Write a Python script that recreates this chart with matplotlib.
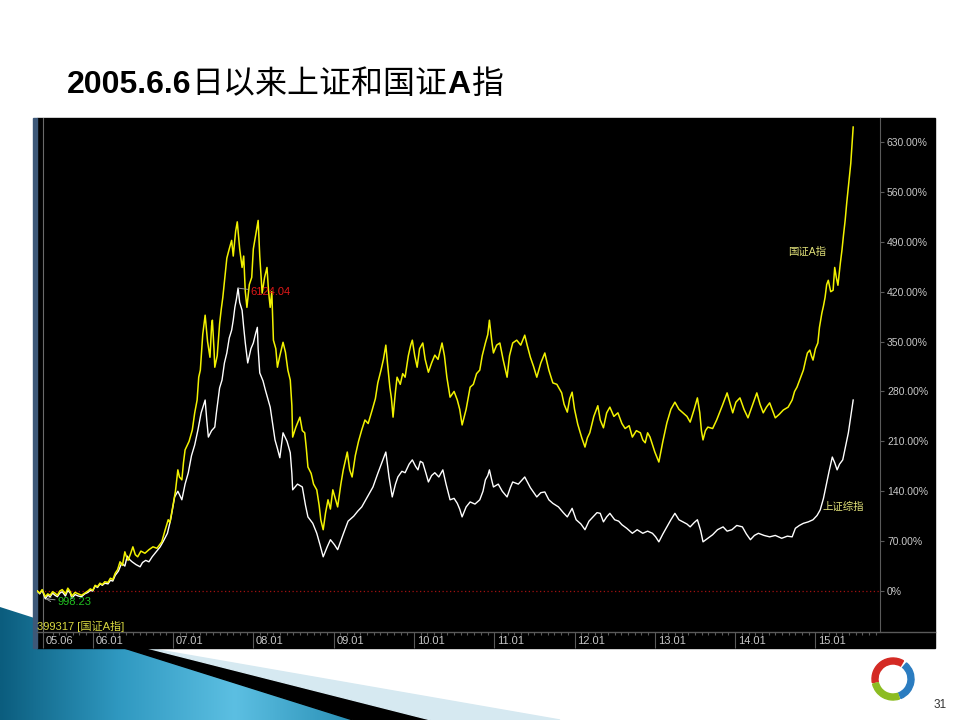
import numpy as np
import matplotlib
matplotlib.use("Agg")
import matplotlib.pyplot as plt
from matplotlib.patches import Polygon, Rectangle, Wedge
from matplotlib.colors import LinearSegmentedColormap
from matplotlib.transforms import ScaledTranslation

plt.rcParams['font.family'] = ['Liberation Sans', 'Noto Sans CJK SC', 'DejaVu Sans']

# 国证A指 (399317): (decimal year, change since 2005-06-06 in %)
gz_points = [
    (2005.31, 0), (2005.34, -3), (2005.37, 2), (2005.41, -8), (2005.44, -4), (2005.47, -6), (2005.50, -1),
    (2005.53, -3), (2005.56, -6), (2005.59, 0), (2005.62, 2), (2005.66, -4), (2005.69, 4), (2005.72, -1),
    (2005.74, -7), (2005.78, -2), (2005.82, -4), (2005.86, -6), (2005.90, -3), (2005.94, 0), (2005.97, 3),
    (2006.00, 1), (2006.03, 8), (2006.06, 6), (2006.09, 11), (2006.12, 9), (2006.15, 13), (2006.19, 12),
    (2006.22, 18), (2006.25, 16), (2006.28, 25), (2006.31, 30), (2006.34, 41), (2006.37, 36), (2006.40, 55),
    (2006.42, 48), (2006.44, 43), (2006.47, 52), (2006.50, 62), (2006.53, 51), (2006.56, 48), (2006.60, 56),
    (2006.65, 53), (2006.70, 58), (2006.75, 62), (2006.80, 60), (2006.86, 69), (2006.90, 85), (2006.94, 100),
    (2006.96, 96), (2006.99, 114), (2007.03, 140), (2007.06, 170), (2007.08, 160), (2007.11, 156),
    (2007.13, 180), (2007.15, 198), (2007.20, 210), (2007.24, 226), (2007.27, 250), (2007.30, 268),
    (2007.32, 300), (2007.34, 310), (2007.37, 360), (2007.40, 387), (2007.43, 350), (2007.46, 328),
    (2007.48, 372), (2007.49, 380), (2007.51, 340), (2007.52, 314), (2007.55, 330), (2007.58, 375),
    (2007.60, 395), (2007.62, 412), (2007.65, 445), (2007.67, 467), (2007.70, 480), (2007.73, 492),
    (2007.75, 470), (2007.78, 505), (2007.80, 518), (2007.83, 480), (2007.86, 454), (2007.88, 470),
    (2007.90, 420), (2007.92, 398), (2007.95, 430), (2007.98, 440), (2008.00, 480), (2008.03, 500),
    (2008.06, 520), (2008.08, 470), (2008.11, 418), (2008.14, 440), (2008.17, 454), (2008.19, 420),
    (2008.21, 398), (2008.23, 420), (2008.25, 352), (2008.28, 340), (2008.30, 314), (2008.33, 330),
    (2008.37, 349), (2008.40, 335), (2008.43, 310), (2008.46, 296), (2008.48, 260), (2008.49, 216),
    (2008.53, 230), (2008.58, 244), (2008.61, 225), (2008.64, 222), (2008.66, 200), (2008.68, 174),
    (2008.72, 165), (2008.75, 150), (2008.79, 142), (2008.82, 120), (2008.84, 100), (2008.87, 86),
    (2008.90, 110), (2008.93, 128), (2008.96, 115), (2008.99, 142), (2009.02, 130), (2009.05, 118),
    (2009.09, 150), (2009.12, 170), (2009.15, 185), (2009.17, 195), (2009.20, 170), (2009.23, 160),
    (2009.27, 190), (2009.31, 210), (2009.35, 226), (2009.39, 240), (2009.43, 235), (2009.48, 254),
    (2009.52, 270), (2009.55, 292), (2009.59, 310), (2009.62, 325), (2009.65, 345), (2009.67, 320),
    (2009.70, 286), (2009.72, 270), (2009.74, 244), (2009.77, 280), (2009.79, 300), (2009.83, 290),
    (2009.86, 305), (2009.89, 300), (2009.93, 330), (2009.96, 345), (2009.98, 352), (2010.01, 330),
    (2010.04, 314), (2010.07, 340), (2010.11, 348), (2010.14, 325), (2010.18, 307), (2010.22, 320),
    (2010.26, 331), (2010.30, 325), (2010.35, 348), (2010.38, 330), (2010.41, 300), (2010.45, 272),
    (2010.50, 280), (2010.54, 268), (2010.57, 255), (2010.60, 233), (2010.65, 255), (2010.70, 286),
    (2010.74, 290), (2010.78, 305), (2010.82, 310), (2010.85, 330), (2010.89, 348), (2010.92, 360),
    (2010.94, 380), (2010.97, 350), (2010.99, 334), (2011.03, 345), (2011.07, 348), (2011.11, 325),
    (2011.16, 300), (2011.19, 330), (2011.23, 348), (2011.28, 352), (2011.33, 345), (2011.38, 359),
    (2011.41, 345), (2011.45, 328), (2011.49, 315), (2011.53, 300), (2011.58, 320), (2011.63, 334),
    (2011.68, 310), (2011.73, 292), (2011.78, 290), (2011.84, 278), (2011.87, 262), (2011.91, 251),
    (2011.94, 270), (2011.97, 279), (2012.00, 255), (2012.04, 234), (2012.09, 215), (2012.13, 202),
    (2012.16, 215), (2012.19, 222), (2012.24, 245), (2012.29, 260), (2012.32, 240), (2012.36, 229),
    (2012.40, 250), (2012.44, 258), (2012.49, 245), (2012.54, 250), (2012.59, 235), (2012.63, 228),
    (2012.68, 232), (2012.72, 216), (2012.77, 225), (2012.82, 222), (2012.85, 212), (2012.88, 208),
    (2012.91, 222), (2012.94, 216), (2013.00, 195), (2013.05, 181), (2013.10, 210), (2013.15, 236),
    (2013.20, 255), (2013.25, 265), (2013.30, 255), (2013.35, 250), (2013.40, 245), (2013.44, 237),
    (2013.49, 255), (2013.53, 271), (2013.56, 250), (2013.58, 225), (2013.60, 212), (2013.63, 225),
    (2013.66, 230), (2013.72, 228), (2013.77, 240), (2013.84, 260), (2013.90, 278), (2013.94, 262),
    (2013.97, 250), (2014.01, 265), (2014.06, 271), (2014.11, 255), (2014.16, 243), (2014.22, 262),
    (2014.27, 278), (2014.31, 262), (2014.35, 250), (2014.39, 258), (2014.43, 264), (2014.47, 252),
    (2014.50, 243), (2014.55, 248), (2014.60, 254), (2014.66, 258), (2014.71, 268), (2014.74, 280),
    (2014.77, 286), (2014.81, 298), (2014.85, 310), (2014.88, 325), (2014.90, 334), (2014.93, 338),
    (2014.95, 330), (2014.97, 324), (2015.00, 340), (2015.03, 348), (2015.05, 370), (2015.08, 390),
    (2015.10, 400), (2015.12, 412), (2015.14, 430), (2015.16, 436), (2015.19, 420), (2015.22, 422),
    (2015.24, 454), (2015.26, 440), (2015.28, 429), (2015.31, 460), (2015.33, 478), (2015.35, 500),
    (2015.37, 520), (2015.39, 545), (2015.41, 567), (2015.44, 600), (2015.46, 633), (2015.47, 651),
]

# 上证综指: (decimal year, change since 2005-06-06 in %)
sh_points = [
    (2005.31, 0), (2005.34, -4), (2005.37, 1), (2005.41, -11), (2005.44, -6), (2005.47, -8), (2005.50, -3),
    (2005.53, -6), (2005.56, -8), (2005.59, -3), (2005.62, -1), (2005.66, -7), (2005.69, 1), (2005.72, -3),
    (2005.74, -10), (2005.78, -5), (2005.82, -7), (2005.86, -8), (2005.90, -4), (2005.94, -2), (2005.97, 1),
    (2006.00, 0), (2006.03, 7), (2006.06, 5), (2006.09, 10), (2006.12, 8), (2006.15, 11), (2006.19, 10),
    (2006.22, 15), (2006.25, 14), (2006.28, 22), (2006.32, 28), (2006.36, 39), (2006.40, 35), (2006.43, 49),
    (2006.46, 44), (2006.49, 41), (2006.54, 37), (2006.59, 34), (2006.62, 40), (2006.66, 43), (2006.70, 41),
    (2006.74, 48), (2006.79, 55), (2006.84, 62), (2006.88, 70), (2006.93, 81), (2006.97, 100), (2007.02, 132),
    (2007.06, 140), (2007.11, 128), (2007.15, 150), (2007.19, 166), (2007.23, 190), (2007.27, 205),
    (2007.31, 226), (2007.35, 250), (2007.40, 268), (2007.42, 240), (2007.44, 216), (2007.48, 225),
    (2007.52, 230), (2007.54, 250), (2007.56, 268), (2007.58, 285), (2007.61, 296), (2007.64, 320),
    (2007.67, 334), (2007.70, 355), (2007.73, 366), (2007.75, 380), (2007.77, 398), (2007.79, 410),
    (2007.81, 425), (2007.83, 405), (2007.86, 394), (2007.88, 370), (2007.90, 348), (2007.92, 330),
    (2007.93, 320), (2007.97, 340), (2008.00, 348), (2008.03, 362), (2008.05, 370), (2008.06, 340),
    (2008.08, 306), (2008.12, 295), (2008.15, 282), (2008.18, 270), (2008.21, 258), (2008.24, 235),
    (2008.27, 212), (2008.30, 200), (2008.33, 187), (2008.35, 205), (2008.37, 222), (2008.42, 210),
    (2008.46, 194), (2008.48, 165), (2008.49, 142), (2008.55, 150), (2008.61, 146), (2008.65, 120),
    (2008.68, 104), (2008.74, 95), (2008.79, 81), (2008.83, 65), (2008.87, 48), (2008.92, 62),
    (2008.96, 72), (2009.01, 65), (2009.05, 58), (2009.12, 80), (2009.18, 98), (2009.25, 105),
    (2009.30, 112), (2009.35, 118), (2009.42, 132), (2009.49, 146), (2009.55, 165), (2009.60, 180),
    (2009.65, 195), (2009.69, 160), (2009.73, 132), (2009.77, 150), (2009.80, 160), (2009.85, 168),
    (2009.89, 166), (2009.94, 178), (2009.98, 184), (2010.02, 175), (2010.05, 170), (2010.08, 182),
    (2010.11, 180), (2010.15, 165), (2010.18, 153), (2010.22, 162), (2010.26, 166), (2010.31, 160),
    (2010.36, 170), (2010.40, 150), (2010.45, 128), (2010.50, 130), (2010.54, 123), (2010.57, 115),
    (2010.60, 104), (2010.65, 118), (2010.70, 125), (2010.76, 122), (2010.82, 128), (2010.86, 140),
    (2010.89, 156), (2010.92, 162), (2010.94, 170), (2010.97, 155), (2010.99, 146), (2011.05, 150),
    (2011.10, 140), (2011.16, 132), (2011.20, 145), (2011.23, 153), (2011.30, 150), (2011.38, 160),
    (2011.45, 145), (2011.53, 132), (2011.58, 138), (2011.63, 139), (2011.68, 128), (2011.73, 123),
    (2011.80, 118), (2011.86, 110), (2011.91, 104), (2011.97, 116), (2012.02, 100), (2012.08, 94),
    (2012.13, 86), (2012.18, 98), (2012.23, 104), (2012.28, 110), (2012.32, 109), (2012.36, 97),
    (2012.40, 104), (2012.44, 109), (2012.50, 100), (2012.55, 98), (2012.59, 93), (2012.65, 88),
    (2012.72, 81), (2012.78, 86), (2012.85, 81), (2012.91, 84), (2012.97, 81), (2013.01, 76),
    (2013.05, 69), (2013.10, 80), (2013.15, 90), (2013.20, 100), (2013.25, 109), (2013.30, 100),
    (2013.35, 97), (2013.40, 94), (2013.44, 90), (2013.49, 96), (2013.53, 100), (2013.57, 85),
    (2013.60, 69), (2013.66, 74), (2013.72, 79), (2013.78, 86), (2013.85, 90), (2013.90, 84),
    (2013.96, 86), (2014.02, 92), (2014.09, 90), (2014.14, 80), (2014.19, 72), (2014.24, 78),
    (2014.29, 81), (2014.36, 78), (2014.43, 76), (2014.50, 78), (2014.58, 74), (2014.65, 77),
    (2014.71, 76), (2014.73, 82), (2014.75, 88), (2014.80, 92), (2014.85, 95), (2014.91, 97),
    (2014.97, 100), (2015.02, 106), (2015.06, 114), (2015.10, 130), (2015.14, 152), (2015.17, 168),
    (2015.21, 188), (2015.24, 180), (2015.27, 170), (2015.30, 178), (2015.34, 184), (2015.37, 200),
    (2015.41, 222), (2015.44, 245), (2015.47, 268),
]

sh_low = 998.23
sh_high = 6124.04

pct_ticks = [0, 70, 140, 210, 280, 350, 420, 490, 560, 630]
pct_labels = ['0%'] + ['%.2f%%' % v for v in pct_ticks[1:]]
year_ticks = [2005.38, 2006, 2007, 2008, 2009, 2010, 2011, 2012, 2013, 2014, 2015]
year_labels = ['05.06', '06.01', '07.01', '08.01', '09.01', '10.01', '11.01', '12.01', '13.01', '14.01', '15.01']

gz_year, gz_pct = zip(*gz_points)
sh_year, sh_pct = zip(*sh_points)

GRID = '#5a5a5a'
AXTXT = '#c8c8c8'
LBL = '#e2e27a'

fig = plt.figure(figsize=(9.6, 7.2), dpi=100)
fig.patch.set_facecolor('white')

# slide decoration, drawn in pixel units
bg = fig.add_axes([0, 0, 1, 1], zorder=0)
blue = Polygon([(0, 607), (353, 720), (0, 720)], closed=True, facecolor='none', edgecolor='none')
bg.add_patch(blue)
cmap = LinearSegmentedColormap.from_list('deco', ['#0b5d7e', '#2f98c0', '#5cbfe2', '#2a90b6'])
im = bg.imshow(np.linspace(0, 1, 256).reshape(1, -1), cmap=cmap, extent=(0, 353, 720, 600), aspect='auto')
im.set_clip_path(blue)
bg.add_patch(Polygon([(124, 648), (147, 648), (431, 720), (353, 720)], color='black'))
bg.add_patch(Polygon([(147, 648), (560, 720), (431, 720)], color='#d6e9f1'))

# chart panel
bg.add_patch(Rectangle((37, 118), 898, 530, color='black'))
bg.add_patch(Rectangle((33, 118), 4, 530, color='#3d5878'))
bg.plot([37, 935], [632, 632], color=GRID, lw=1)

# logo
for t1, t2, c in [(170, 300, '#d42a24'), (-50, 68, '#2b7cc0'), (72, 166, '#8cbc22')]:
    bg.add_patch(Wedge((893, 679), 21, t1, t2, width=6, color=c))
bg.text(940, 705, '31', fontsize=8.5, color='#333333', ha='center', va='center')

bg.set_xlim(0, 960)
bg.set_ylim(720, 0)
bg.axis('off')

# main chart
ax = fig.add_axes([37 / 960, 1 - 632 / 720, 843 / 960, 514 / 720], zorder=1)
ax.patch.set_alpha(0)
ax.set_xlim(2005.306, 2015.804)
ax.set_ylim(-57.5, 663.7)
for s in ['top', 'left', 'bottom']:
    ax.spines[s].set_visible(False)
ax.spines['right'].set_color(GRID)

ax.yaxis.tick_right()
ax.set_yticks(pct_ticks, labels=pct_labels)
ax.tick_params(axis='y', colors=GRID, labelcolor=AXTXT, length=3, labelsize=7.5, pad=2)

ax.set_xticks(year_ticks, labels=year_labels)
ax.set_xticks(np.arange(2005.5, 2015.81, 1 / 12), minor=True)
ax.tick_params(axis='x', which='major', colors=GRID, labelcolor=AXTXT, length=11.5, width=0.8,
               labelsize=8, pad=-8.6)
ax.tick_params(axis='x', which='minor', colors=GRID, length=2.2, width=0.8)
for lab in ax.get_xticklabels():
    lab.set_horizontalalignment('left')
    lab.set_transform(lab.get_transform() + ScaledTranslation(2 / 72, 0, fig.dpi_scale_trans))

ax.axvline(year_ticks[0], color='#6a6a6a', lw=0.8)
ax.axhline(0, color='#a01010', lw=0.9, ls=(0, (1, 2)))

ax.plot(sh_year, sh_pct, color='white', lw=1.0)
ax.plot(gz_year, gz_pct, color='#f2f200', lw=1.1)

i = int(np.argmin(sh_pct))
ax.annotate('%.2f' % sh_low, xy=(sh_year[i], sh_pct[i]), xytext=(9, -2), textcoords='offset points',
            color='#20c020', fontsize=8, ha='left', va='center',
            arrowprops=dict(arrowstyle='->', color='#9a9a9a', lw=0.7, shrinkA=0, shrinkB=0))
j = int(np.argmax(sh_pct))
ax.annotate('%.2f' % sh_high, xy=(sh_year[j], sh_pct[j]), xytext=(9, -3), textcoords='offset points',
            color='#e01818', fontsize=8, ha='left', va='center',
            arrowprops=dict(arrowstyle='-', color='#9a9a9a', lw=0.7, shrinkA=0, shrinkB=0))

ax.text(2014.66, 476, '国证A指', color=LBL, fontsize=7.5, va='center', ha='left')
ax.text(2015.09, 118, '上证综指', color=LBL, fontsize=7.5, va='center', ha='left')
ax.text(0.0, 0.012, '399317 [国证A指]', transform=ax.transAxes, color='#d8d840', fontsize=8,
        va='center', ha='left')

# title: latin bold, CJK regular
r = fig.canvas.get_renderer()
tx = 67 / 960
for s, w in [('2005.6.6', 'bold'), ('日以来上证和国证', 'normal'), ('A', 'bold'), ('指', 'normal')]:
    t = fig.text(tx, 1 - 93 / 720, s, fontsize=23, fontweight=w, va='baseline', color='black')
    tx += t.get_window_extent(renderer=r).width / fig.bbox.width

fig.savefig('out.png', dpi=100, facecolor='white')
